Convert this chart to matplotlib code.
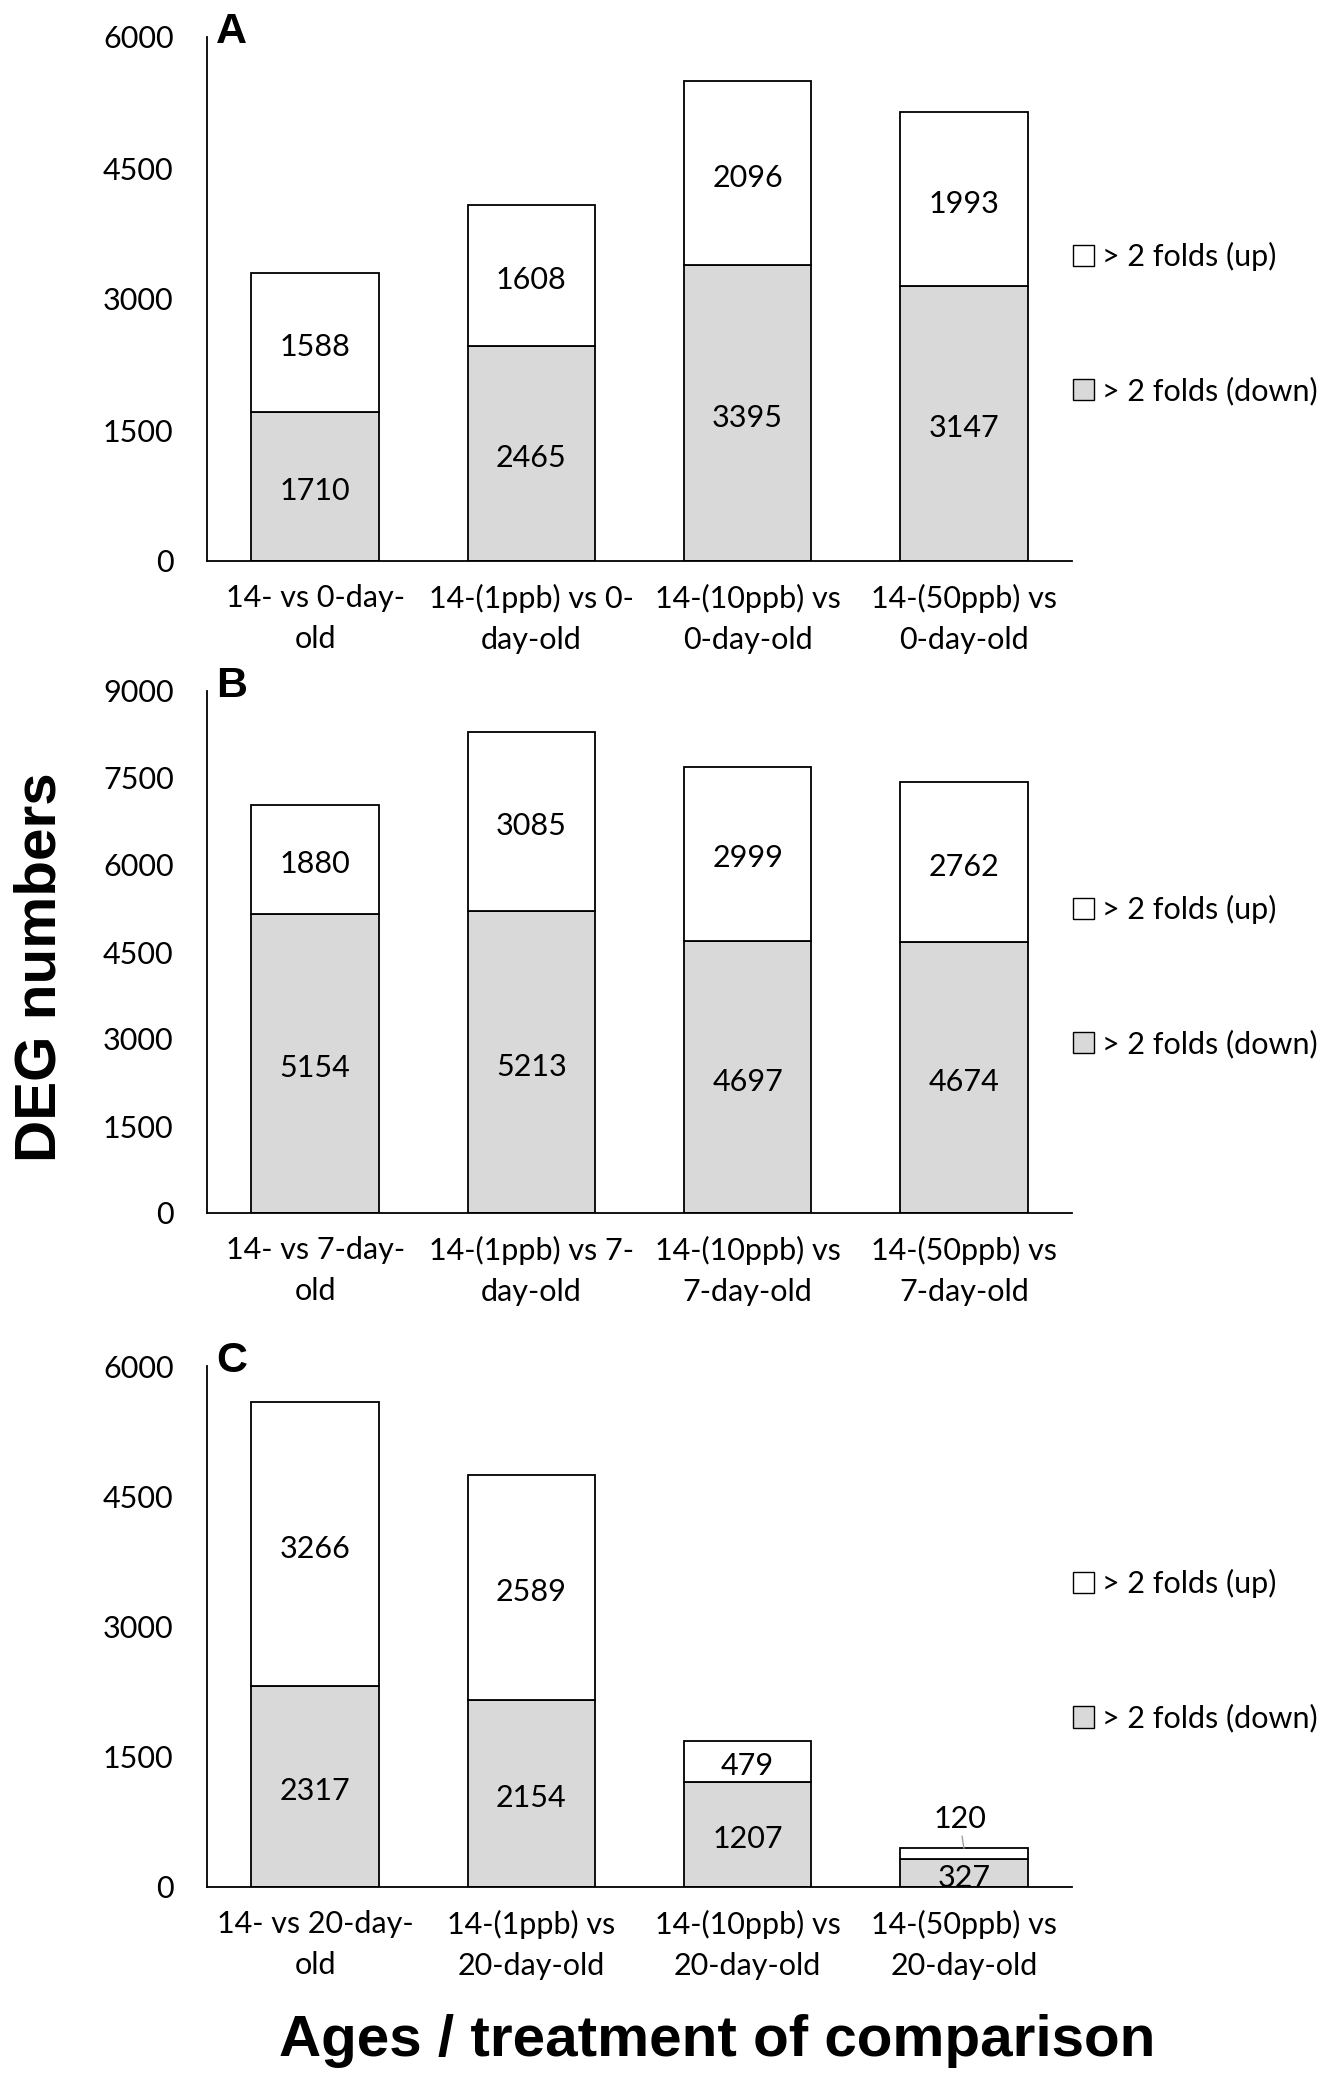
import matplotlib
matplotlib.use("Agg")
import matplotlib.pyplot as plt
from matplotlib.patches import Patch
import numpy as np

# ---- data ----
labels_A = ["14- vs 0-day-\nold", "14-(1ppb) vs 0-\nday-old", "14-(10ppb) vs\n0-day-old", "14-(50ppb) vs\n0-day-old"]
down_A = [1710, 2465, 3395, 3147]
up_A = [1588, 1608, 2096, 1993]

labels_B = ["14- vs 7-day-\nold", "14-(1ppb) vs 7-\nday-old", "14-(10ppb) vs\n7-day-old", "14-(50ppb) vs\n7-day-old"]
down_B = [5154, 5213, 4697, 4674]
up_B = [1880, 3085, 2999, 2762]

labels_C = ["14- vs 20-day-\nold", "14-(1ppb) vs\n20-day-old", "14-(10ppb) vs\n20-day-old", "14-(50ppb) vs\n20-day-old"]
down_C = [2317, 2154, 1207, 327]
up_C = [3266, 2589, 479, 120]

yticks_A = [0, 1500, 3000, 4500, 6000]
yticks_B = [0, 1500, 3000, 4500, 6000, 7500, 9000]
yticks_C = [0, 1500, 3000, 4500, 6000]

legend_labels = ["> 2 folds (up)", "> 2 folds (down)"]

W, H = 1338, 2074
DPI = 100
fig = plt.figure(figsize=(W / DPI, H / DPI), dpi=DPI)

FONT = "Lato"
BOLD = "Liberation Sans"
FS = 22
GREY = "#D9D9D9"

panels = [
    ("A", labels_A, down_A, up_A, yticks_A, 37, 561),
    ("B", labels_B, down_B, up_B, yticks_B, 691, 1213),
    ("C", labels_C, down_C, up_C, yticks_C, 1366, 1887),
]

left_px, right_px = 207, 1072

for letter, labels, down, up, yticks, top_px, bot_px in panels:
    ax = fig.add_axes([left_px / W, 1 - bot_px / H, (right_px - left_px) / W, (bot_px - top_px) / H])
    x = np.arange(len(labels))
    ax.bar(x, down, width=0.59, color=GREY, edgecolor="black", linewidth=1.3)
    ax.bar(x, up, width=0.59, bottom=down, color="white", edgecolor="black", linewidth=1.3)
    ax.set_xlim(-0.5, len(labels) - 0.5)
    ax.set_ylim(yticks[0], yticks[-1])
    ax.set_yticks(yticks)
    ax.set_yticklabels([str(t) for t in yticks], fontfamily=FONT, fontsize=FS)
    ax.set_xticks(x)
    ax.set_xticklabels(labels, fontfamily=FONT, fontsize=FS, linespacing=1.58)
    ax.tick_params(axis="y", length=0, pad=24)
    ax.tick_params(axis="x", length=0, pad=16.5)
    for s in ["top", "right"]:
        ax.spines[s].set_visible(False)
    for s in ["left", "bottom"]:
        ax.spines[s].set_linewidth(1.3)
    # value labels
    for i in range(len(labels)):
        ax.annotate(str(down[i]), xy=(x[i], down[i] / 2), xytext=(0, -3.5),
                    textcoords="offset points", ha="center", va="center",
                    fontfamily=FONT, fontsize=FS)
        if up[i] < 300:
            ax.annotate(str(up[i]), xy=(x[i], down[i] + up[i]), xytext=(x[i] - 0.02, 780),
                        ha="center", va="center", fontfamily=FONT, fontsize=FS,
                        arrowprops=dict(arrowstyle="-", color="#A0A0A0", lw=1.0,
                                        shrinkA=12, shrinkB=0))
        else:
            ax.annotate(str(up[i]), xy=(x[i], down[i] + up[i] / 2), xytext=(0, -3.5),
                        textcoords="offset points", ha="center", va="center",
                        fontfamily=FONT, fontsize=FS)
    # legend
    handles = [Patch(facecolor="white", edgecolor="black", linewidth=1.0),
               Patch(facecolor=GREY, edgecolor="black", linewidth=1.0)]
    ax.legend(handles, legend_labels, loc="center left", bbox_to_anchor=(1.001, 0.453),
              frameon=False, borderpad=0, borderaxespad=0, handlelength=0.7,
              handleheight=0.7, handletextpad=0.25, labelspacing=3.45,
              prop={"family": FONT, "size": FS})
    # panel letter
    fig.text(216 / W, 1 - (top_px + 6) / H, letter, fontfamily=BOLD, fontweight="bold",
             fontsize=31, ha="left", va="baseline")

fig.text(41 / W, 1 - 967 / H, "DEG numbers", rotation=90, fontfamily=BOLD, fontweight="bold",
         fontsize=42, ha="center", va="center")
fig.text(717 / W, 1 - 2041 / H, "Ages / treatment of comparison", fontfamily=BOLD,
         fontweight="bold", fontsize=42, ha="center", va="center")

fig.savefig("out.png", dpi=DPI)
